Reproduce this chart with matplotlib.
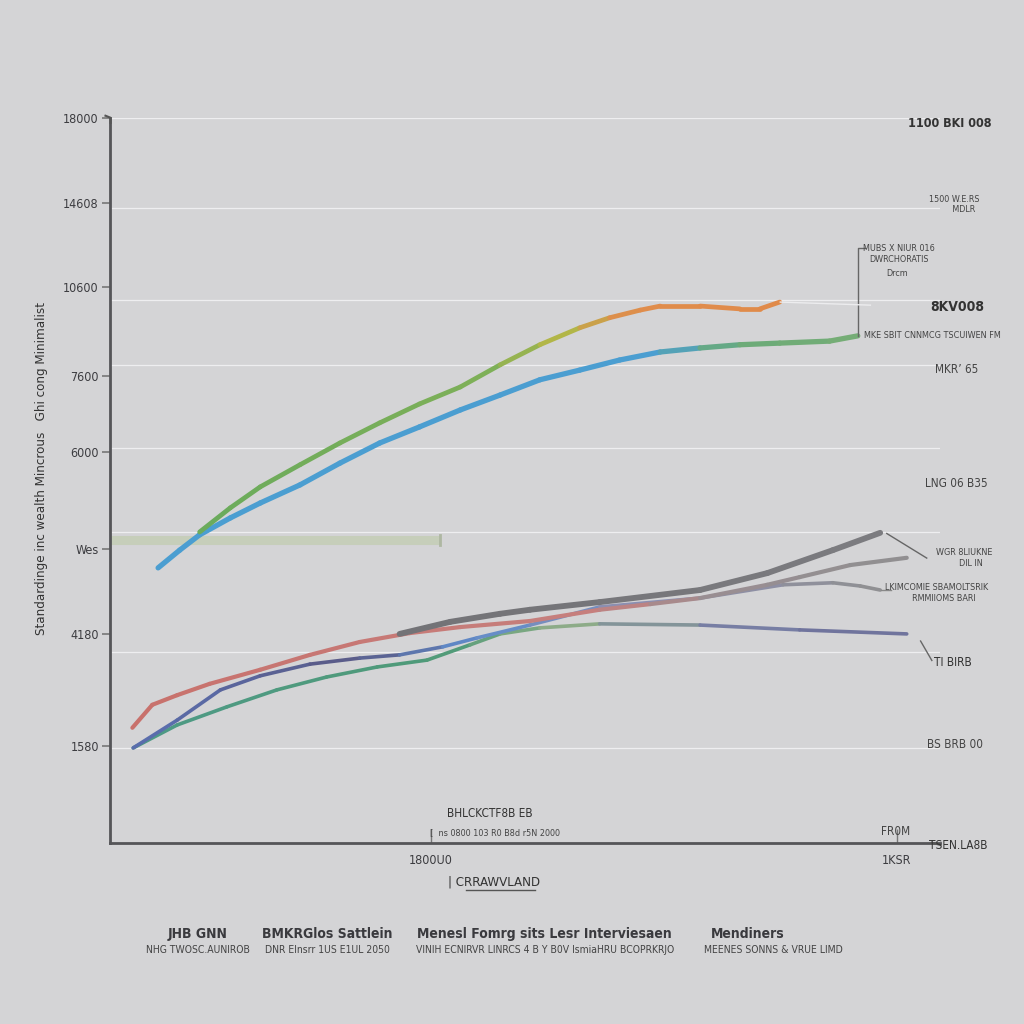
import matplotlib
matplotlib.use("Agg")
import matplotlib.pyplot as plt
import numpy as np
from matplotlib.collections import LineCollection
from matplotlib.colors import LinearSegmentedColormap

plt.rcParams['font.family'] = ['DejaVu Sans']
plt.rcParams['font.stretch'] = 'condensed'

BG = '#d4d4d6'

# --- data ---
blue_x = [0.58, 0.84, 1.08, 1.45, 1.81, 2.29, 2.77, 3.25, 3.73, 4.22, 4.70, 5.18,
          5.66, 6.14, 6.63, 7.11, 7.59, 8.07, 8.67, 9.01]
blue_y = [68.3, 72.7, 76.5, 80.7, 84.4, 88.9, 94.3, 99.3, 103.3, 107.5, 111.2, 115.0,
          117.4, 119.9, 121.9, 122.9, 123.7, 124.1, 124.6, 125.9]

green_x = [1.08, 1.45, 1.81, 2.29, 2.77, 3.25, 3.73, 4.22, 4.70, 5.18, 5.66, 6.02,
           6.39, 6.63, 7.11, 7.59, 7.83, 8.07]
green_y = [77.2, 83.2, 88.4, 93.9, 99.3, 104.3, 109.0, 113.2, 118.7, 123.7, 127.9, 130.4,
           132.3, 133.3, 133.3, 132.6, 132.6, 134.3]

red_x = [0.27, 0.51, 0.81, 1.20, 1.81, 2.41, 3.01, 3.61, 4.22, 5.06, 5.90, 6.51,
         7.11, 7.92, 8.31, 8.92, 9.60]
red_y = [28.6, 34.3, 36.7, 39.5, 43.0, 46.7, 49.9, 52.1, 53.6, 55.1, 57.9, 59.3,
         60.8, 64.1, 66.0, 69.0, 70.8]

gray_x = [3.49, 4.10, 4.70, 5.06, 5.90, 7.11, 7.92, 8.71, 9.28]
gray_y = [51.9, 54.9, 56.9, 57.9, 59.8, 62.8, 67.0, 72.7, 77.0]

purple_x = [0.28, 0.81, 1.33, 1.81, 2.41, 3.01, 3.49, 4.01, 4.42, 5.06, 5.90, 7.11,
            8.11, 8.71, 9.04, 9.28]
purple_y = [23.6, 30.5, 38.0, 41.5, 44.4, 45.9, 46.7, 48.7, 50.9, 54.1, 58.6, 60.8,
            64.1, 64.6, 63.8, 62.8]

teal_x = [0.28, 0.81, 1.41, 2.01, 2.61, 3.22, 3.82, 4.34, 4.70, 5.18, 5.90, 7.11,
          8.31, 9.60]
teal_y = [23.6, 29.3, 33.8, 38.0, 41.2, 43.7, 45.4, 49.2, 51.9, 53.4, 54.4, 54.1,
          52.9, 51.9]

band_x = [0.0, 3.98]
band_y = [75.2, 75.2]

ytick_pos = [180, 159, 138, 116, 97, 73, 52, 24]
ytick_lab = ['18000', '14608', '10600', '7600', '6000', 'Wes', '4180', '1580']
grid_pos = [180, 157.7, 134.8, 118.7, 98.1, 77.2, 47.4, 23.6]
xtick_pos = [3.87, 9.48]
xtick_lab = ['1800U0', '1KSR']


def grad_line(ax, x, y, stops, lw, z=3):
    x = np.asarray(x)
    y = np.asarray(y)
    cmap = LinearSegmentedColormap.from_list('g', stops)
    pts = np.column_stack([x, y]).reshape(-1, 1, 2)
    segs = np.concatenate([pts[:-1], pts[1:]], axis=1)
    mid = (x[:-1] + x[1:]) / 2
    t = (mid - x.min()) / (x.max() - x.min())
    lc = LineCollection(segs, colors=cmap(t), linewidths=lw, capstyle='round',
                        joinstyle='round', zorder=z)
    ax.add_collection(lc)


fig = plt.figure(figsize=(10.24, 10.24), dpi=100)
fig.patch.set_facecolor(BG)
ax = fig.add_axes([0.1074, 0.1768, 0.8105, 0.708])
ax.set_facecolor(BG)
ax.set_xlim(0, 10)
ax.set_ylim(0, 180)

for g in grid_pos:
    ax.axhline(g, color='#eeeef0', lw=0.9, zorder=1)

# pale horizontal band
ax.plot(band_x, band_y, color='#c6ceba', lw=6.5, solid_capstyle='butt', zorder=2)
ax.plot([band_x[1], band_x[1]], [74.0, 76.4], color='#aeb7a2', lw=2, zorder=2)

# upper pair
grad_line(ax, blue_x, blue_y, [(0, '#4b9ed1'), (0.72, '#4b9ed1'), (0.82, '#6aab78'),
                               (1, '#76ad76')], 3.8)
grad_line(ax, green_x, green_y, [(0, '#6aab5c'), (0.5, '#7fb058'), (0.62, '#b2b648'),
                                 (0.74, '#e08d4c'), (1, '#e08a4a')], 3.4)

# lower cluster
grad_line(ax, teal_x, teal_y, [(0, '#4e9a86'), (0.4, '#4f9a78'), (0.55, '#8fae86'),
                               (0.75, '#7a82a6'), (1, '#6c6f9a')], 2.6)
grad_line(ax, purple_x, purple_y, [(0, '#5a6fb0'), (0.3, '#5a5a86'), (0.45, '#5f8ccc'),
                                   (0.7, '#8c8fb0'), (1, '#909092')], 2.6)
grad_line(ax, red_x, red_y, [(0, '#c8716c'), (0.6, '#c6807e'), (0.75, '#9a8e92'),
                             (1, '#8f8f91')], 3.0)
grad_line(ax, gray_x, gray_y, [(0, '#727276'), (1, '#7c7c80')], 4.2, z=4)

# spines / ticks
for s in ['top', 'right']:
    ax.spines[s].set_visible(False)
ax.spines['left'].set_color('#555558')
ax.spines['left'].set_linewidth(2)
ax.spines['bottom'].set_color('#555558')
ax.spines['bottom'].set_linewidth(2)
ax.set_yticks(ytick_pos)
ax.set_yticklabels(ytick_lab, fontsize=9, color='#3c3c40')
ax.tick_params(axis='y', length=6, width=1.2, color='#777', pad=2)
ax.set_xticks(xtick_pos)
ax.set_xticklabels(xtick_lab, fontsize=9, color='#3c3c40')
ax.tick_params(axis='x', direction='in', length=10, width=1, color='#777', pad=8)

ax.set_ylabel('Standardinge inc wealth Mincrous   Ghi cong Minimalist', fontsize=9.5,
              color='#333')
ax.yaxis.set_label_coords(-0.075, 0.517)

# annotations (right side)
fig.text(0.928, 0.879, '1100 BKI 008', fontsize=9, weight='bold', color='#333', ha='center', va='center')
fig.text(0.932, 0.800, '1500 W.E.RS\n       MDLR', fontsize=6.5, color='#444', ha='center', va='center')
fig.text(0.878, 0.752, 'MUBS X NIUR 016\nDWRCHORATIS', fontsize=6.5, color='#444', ha='center', va='center')
fig.text(0.876, 0.733, 'Drcm', fontsize=6.5, color='#444', ha='center', va='center')
fig.text(0.935, 0.700, '8KV008', fontsize=10, weight='bold', color='#333', ha='center', va='center')
fig.text(0.911, 0.672, 'MKE SBIT CNNMCG TSCUIWEN FM', fontsize=6.5, color='#444', ha='center', va='center')
fig.text(0.934, 0.639, 'MKR\u2019 65', fontsize=8.5, color='#444', ha='center', va='center')
fig.text(0.934, 0.528, 'LNG 06 B35', fontsize=8.5, color='#444', ha='center', va='center')
fig.text(0.942, 0.455, 'WGR 8LIUKNE\n     DIL IN', fontsize=6.5, color='#444', ha='center', va='center')
fig.text(0.915, 0.421, 'LKIMCOMIE SBAMOLTSRIK\n     RMMIIOMS BARI', fontsize=6.5, color='#444', ha='center', va='center')
fig.text(0.931, 0.353, 'TI BIRB', fontsize=8.5, color='#333', ha='center', va='center')
fig.text(0.933, 0.273, 'BS BRB 00', fontsize=8.5, color='#444', ha='center', va='center')
fig.text(0.875, 0.188, 'FR0M', fontsize=8.5, color='#444', ha='center', va='center')
fig.text(0.936, 0.174, 'TSEN.LA8B', fontsize=8.5, color='#333', ha='center', va='center')

# leader lines (figure coords)
tr = fig.transFigure
fig.add_artist(plt.Line2D([0.838, 0.838, 0.845], [0.672, 0.758, 0.758], transform=tr, color='#666', lw=1))
fig.add_artist(plt.Line2D([0.762, 0.85], [0.705, 0.702], transform=tr, color='#ececee', lw=1))
fig.add_artist(plt.Line2D([0.866, 0.905], [0.479, 0.455], transform=tr, color='#666', lw=1))
fig.add_artist(plt.Line2D([0.86, 0.87], [0.424, 0.424], transform=tr, color='#888', lw=1))
fig.add_artist(plt.Line2D([0.899, 0.91], [0.374, 0.355], transform=tr, color='#666', lw=1))
fig.add_artist(plt.Line2D([0.91, 0.918], [0.177, 0.175], transform=tr, color='#555', lw=1.5))
fig.add_artist(plt.Line2D([0.103, 0.108, 0.108], [0.887, 0.885, 0.880], transform=tr, color='#555', lw=1.5))

# bottom labels
fig.text(0.478, 0.206, 'BHLCKCTF8B EB', fontsize=8.5, color='#333', ha='center', va='center')
fig.text(0.483, 0.187, '[  ns 0800 103 R0 B8d r5N 2000', fontsize=6.5, color='#444', ha='center', va='center')
fig.text(0.482, 0.139, '| CRRAWVLAND', fontsize=9.5, color='#333', ha='center', va='center')
fig.add_artist(plt.Line2D([0.455, 0.522], [0.131, 0.131], transform=tr, color='#555', lw=1))

cols_x = [0.193, 0.32, 0.532, 0.73]
heads = ['JHB GNN', 'BMKRGlos Sattlein', 'Menesl Fomrg sits Lesr Interviesaen', 'Mendiners']
subs = ['NHG TWOSC.AUNIROB', 'DNR Elnsrr 1US E1UL 2050',
        'VINIH ECNIRVR LINRCS 4 B Y B0V IsmiaHRU BCOPRKRJO', 'MEENES SONNS & VRUE LIMD']
for cx, h, s in zip(cols_x, heads, subs):
    fig.text(cx, 0.088, h, fontsize=10, weight='bold', color='#3a3a3e', ha='center', va='center')
    fig.text(cx + (0.025 if cx > 0.7 else 0), 0.072, s, fontsize=7.5, color='#444', ha='center', va='center')

fig.savefig('out.png', dpi=100, facecolor=BG)
